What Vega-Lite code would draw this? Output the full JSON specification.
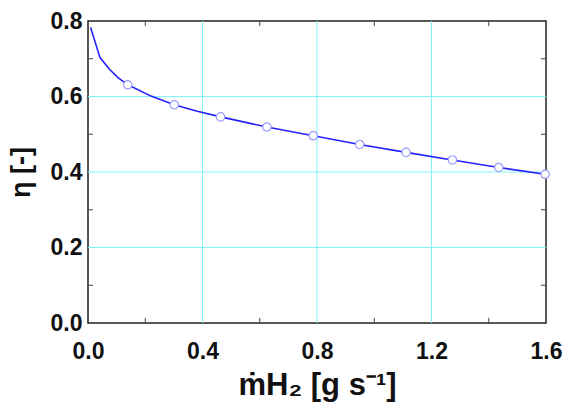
{
  "$schema": "https://vega.github.io/schema/vega-lite/v6.json",
  "width": 458,
  "height": 302,
  "autosize": "none",
  "padding": {"left": 88, "top": 21, "right": 18, "bottom": 86},
  "background": "white",
  "config": {
    "view": {"stroke": "#222", "strokeWidth": 1.5},
    "font": "Liberation Sans",
    "axis": {
      "labelFont": "Liberation Sans",
      "labelFontWeight": "bold",
      "labelFontSize": 23,
      "labelColor": "#111",
      "titleFont": "Liberation Sans",
      "titleFontWeight": "bold",
      "titleColor": "#111",
      "domain": false,
      "grid": false,
      "ticks": false
    }
  },
  "datasets": {
    "gridx": [{"g": 0.4}, {"g": 0.8}, {"g": 1.2}],
    "gridy": [{"g": 0.2}, {"g": 0.4}, {"g": 0.6}],
    "xticks": [{"t": 0.2}, {"t": 0.6}, {"t": 1.0}, {"t": 1.4}],
    "yticks": [{"t": 0.1}, {"t": 0.3}, {"t": 0.5}, {"t": 0.7}],
    "curve": [
      {"m": 0.009, "eta": 0.783},
      {"m": 0.042, "eta": 0.703},
      {"m": 0.075, "eta": 0.672},
      {"m": 0.105, "eta": 0.650},
      {"m": 0.139, "eta": 0.631},
      {"m": 0.22, "eta": 0.601},
      {"m": 0.301, "eta": 0.578},
      {"m": 0.382, "eta": 0.561},
      {"m": 0.463, "eta": 0.546},
      {"m": 0.625, "eta": 0.519},
      {"m": 0.787, "eta": 0.496},
      {"m": 0.949, "eta": 0.473},
      {"m": 1.111, "eta": 0.452},
      {"m": 1.273, "eta": 0.432},
      {"m": 1.435, "eta": 0.412},
      {"m": 1.597, "eta": 0.394}
    ],
    "markers": [
      {"m": 0.139, "eta": 0.631},
      {"m": 0.301, "eta": 0.578},
      {"m": 0.463, "eta": 0.546},
      {"m": 0.625, "eta": 0.519},
      {"m": 0.787, "eta": 0.496},
      {"m": 0.949, "eta": 0.473},
      {"m": 1.111, "eta": 0.452},
      {"m": 1.273, "eta": 0.432},
      {"m": 1.435, "eta": 0.412},
      {"m": 1.597, "eta": 0.394}
    ]
  },
  "layer": [
    {
      "data": {"name": "gridx"},
      "mark": {"type": "rule", "color": "#80f4fa", "strokeWidth": 1},
      "encoding": {
        "x": {
          "field": "g", "type": "quantitative",
          "scale": {"domain": [0, 1.6], "nice": false, "zero": false},
          "axis": {
            "orient": "bottom",
            "values": [0, 0.4, 0.8, 1.2, 1.6],
            "format": ".1f",
            "labelPadding": 17,
            "labelFlush": false,
            "labelOverlap": false,
            "title": "ṁH₂ [g s⁻¹]",
            "titleFontSize": 31,
            "titlePadding": 7
          }
        }
      }
    },
    {
      "data": {"name": "gridy"},
      "mark": {"type": "rule", "color": "#80f4fa", "strokeWidth": 1},
      "encoding": {
        "y": {
          "field": "g", "type": "quantitative",
          "scale": {"domain": [0, 0.8], "nice": false, "zero": false},
          "axis": {
            "orient": "left",
            "values": [0, 0.2, 0.4, 0.6, 0.8],
            "format": ".1f",
            "labelPadding": 6,
            "labelFlush": false,
            "labelOverlap": false,
            "title": "η [-]",
            "titleFontSize": 27,
            "titlePadding": 15
          }
        }
      }
    },
    {
      "data": {"name": "xticks"},
      "mark": {"type": "rule", "color": "#444", "strokeWidth": 1},
      "encoding": {
        "x": {"field": "t", "type": "quantitative", "axis": null},
        "y": {"datum": 0, "type": "quantitative", "axis": null},
        "y2": {"datum": 0.0135}
      }
    },
    {
      "data": {"name": "xticks"},
      "mark": {"type": "rule", "color": "#444", "strokeWidth": 1},
      "encoding": {
        "x": {"field": "t", "type": "quantitative", "axis": null},
        "y": {"datum": 0.8, "type": "quantitative", "axis": null},
        "y2": {"datum": 0.7865}
      }
    },
    {
      "data": {"name": "yticks"},
      "mark": {"type": "rule", "color": "#444", "strokeWidth": 1},
      "encoding": {
        "y": {"field": "t", "type": "quantitative", "axis": null},
        "x": {"datum": 0, "type": "quantitative", "axis": null},
        "x2": {"datum": 0.0175}
      }
    },
    {
      "data": {"name": "yticks"},
      "mark": {"type": "rule", "color": "#444", "strokeWidth": 1},
      "encoding": {
        "y": {"field": "t", "type": "quantitative", "axis": null},
        "x": {"datum": 1.6, "type": "quantitative", "axis": null},
        "x2": {"datum": 1.5825}
      }
    },
    {
      "data": {"name": "curve"},
      "mark": {"type": "line", "color": "#2222ff", "strokeWidth": 1.6, "clip": true},
      "encoding": {
        "x": {"field": "m", "type": "quantitative", "axis": null},
        "y": {"field": "eta", "type": "quantitative", "axis": null}
      }
    },
    {
      "data": {"name": "markers"},
      "mark": {"type": "point", "shape": "circle", "filled": false, "fill": "white", "fillOpacity": 1, "stroke": "#9a9aff", "strokeWidth": 1.2, "size": 70, "opacity": 1},
      "encoding": {
        "x": {"field": "m", "type": "quantitative", "axis": null},
        "y": {"field": "eta", "type": "quantitative", "axis": null}
      }
    }
  ],
  "resolve": {"axis": {"x": "independent", "y": "independent"}}
}
